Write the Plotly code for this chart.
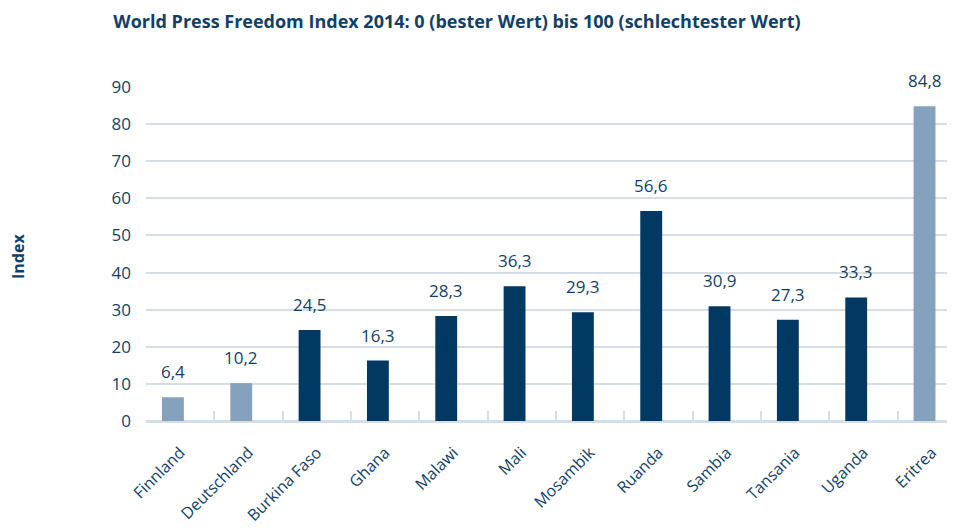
import plotly.graph_objects as go

countries = ["Finnland", "Deutschland", "Burkina Faso", "Ghana", "Malawi", "Mali",
             "Mosambik", "Ruanda", "Sambia", "Tansania", "Uganda", "Eritrea"]
values = [6.4, 10.2, 24.5, 16.3, 28.3, 36.3, 29.3, 56.6, 30.9, 27.3, 33.3, 84.8]
highlight = [True, True, False, False, False, False, False, False, False, False, False, True]
y_ticks = [0, 10, 20, 30, 40, 50, 60, 70, 80, 90]

DARK = "#013963"
LIGHT = "#84a1bd"
TEXT = "#123f66"
GRID = "#d5dde7"
FONT = "Open Sans"

BAR_W = 0.32
BAR_OFF = -0.266
PX_PER_CAT = 809 / 11.84

colors = [LIGHT if h else DARK for h in highlight]
labels = [f"{v:.1f}".replace(".", ",") for v in values]

fig = go.Figure()
fig.add_trace(go.Bar(
    x=countries, y=values,
    marker=dict(color=colors, line=dict(width=0)),
    width=BAR_W, offset=BAR_OFF,
    hoverinfo="x+y",
))

annotations = [dict(
    x=c, y=v, xref="x", yref="y", text=t, showarrow=False,
    xanchor="center", yanchor="bottom", yshift=12,
    xshift=(BAR_OFF + BAR_W / 2) * PX_PER_CAT,
    font=dict(family=FONT, size=17, color=TEXT),
) for c, v, t in zip(countries, values, labels)]

annotations.append(dict(
    text="<b>Index</b>", textangle=-90,
    xref="paper", yref="paper",
    x=(18 - 146) / 809, y=(421 - 257) / 334,
    xanchor="center", yanchor="middle", showarrow=False,
    font=dict(family=FONT, size=16, color=TEXT),
))

fig.update_layout(
    width=947, height=522,
    margin=dict(l=138, r=0, t=79, b=109),
    paper_bgcolor="white", plot_bgcolor="white",
    showlegend=False,
    title=dict(
        text="<b>World Press Freedom Index 2014: 0 (bester Wert) bis 100 (schlechtester Wert)</b>",
        x=449 / 947, y=1 - 14 / 522, xanchor="center", yanchor="middle",
        font=dict(family=FONT, size=18, color=TEXT),
    ),
    xaxis=dict(
        type="category", range=[-0.5, 11.34], automargin=False,
        tickson="boundaries", ticks="inside", ticklen=10, tickwidth=2, tickcolor=GRID,
        showline=True, linecolor=GRID, linewidth=2,
        showgrid=False, tickangle=-45, ticklabelstandoff=14,
        tickfont=dict(family=FONT, size=16, color=TEXT),
    ),
    yaxis=dict(
        range=[0, 90], tickvals=y_ticks, automargin=False,
        showgrid=True, gridcolor=GRID, gridwidth=2,
        zeroline=True, zerolinecolor=GRID, zerolinewidth=2,
        ticks="", ticklabelstandoff=14,
        tickfont=dict(family=FONT, size=17, color=TEXT),
    ),
    annotations=annotations,
)

fig.write_html("out.html")
